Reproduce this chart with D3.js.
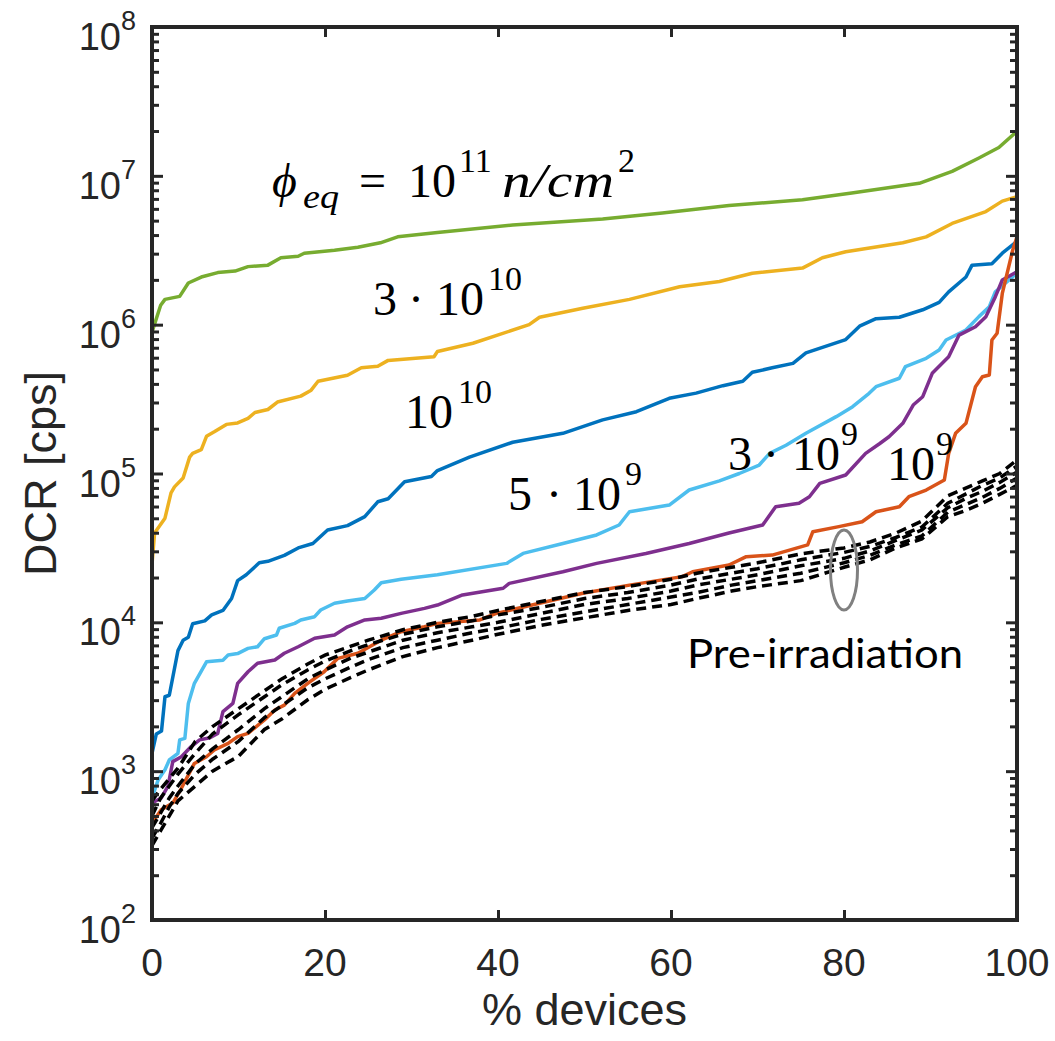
<!DOCTYPE html>
<html>
<head>
<meta charset="utf-8">
<script src="https://cdn.jsdelivr.net/npm/d3@7"></script>
<style>
  html, body { margin: 0; padding: 0; background: #fff; }
  svg { display: block; }
</style>
</head>
<body>
<div id="chart"></div>
<script>
// Values: [% devices, log10(DCR in cps)]
const phi1e11 = [[0,5.95],[1,6.13],[1.5,6.17],[3.2,6.19],[4.2,6.28],[5.7,6.32],[7.6,6.35],[9.6,6.36],[11.1,6.39],[13.4,6.40],[14.9,6.45],[16.9,6.46],[17.6,6.48],[21.1,6.50],[23.8,6.52],[26.4,6.55],[28.4,6.59],[33,6.62],[41.7,6.67],[52.1,6.71],[59,6.75],[66.7,6.80],[75.2,6.84],[80.9,6.885],[88.7,6.95],[92.5,7.03],[95.6,7.12],[97.9,7.19],[100,7.30]];
const phi3e10 = [[0,4.39],[0.3,4.6],[1.5,4.7],[2.2,4.87],[2.6,4.91],[3.6,4.97],[4.35,5.11],[4.7,5.135],[5.7,5.16],[6.3,5.25],[7.2,5.28],[8.6,5.33],[9.9,5.34],[11.1,5.37],[11.9,5.41],[13.4,5.43],[14.5,5.48],[17.2,5.52],[18.4,5.56],[19.2,5.62],[22.6,5.66],[24.2,5.71],[26.1,5.72],[27.3,5.76],[32.6,5.785],[33,5.82],[37.1,5.875],[43.6,6.0],[44.8,6.05],[49.8,6.11],[55.2,6.17],[61,6.255],[65.6,6.29],[69.4,6.345],[75.2,6.38],[77.5,6.45],[80.2,6.49],[86.8,6.55],[89.5,6.59],[92.5,6.68],[96.4,6.76],[98.3,6.83],[100,6.86]];
const phi1e10 = [[0,3.12],[0.5,3.25],[1.1,3.27],[1.5,3.5],[2,3.51],[3,3.81],[3.6,3.88],[4.2,3.9],[4.7,3.99],[6.1,4.01],[6.9,4.05],[8.2,4.08],[9.2,4.16],[9.9,4.28],[10.9,4.32],[12.4,4.40],[13.4,4.41],[15.3,4.45],[16.9,4.50],[18.6,4.53],[20.3,4.62],[22.6,4.65],[24.6,4.71],[26.1,4.81],[27.3,4.83],[29.2,4.945],[32.3,4.98],[33,5.02],[36.7,5.11],[41.7,5.21],[47.5,5.27],[52.1,5.36],[56,5.415],[59.8,5.505],[62.9,5.54],[66,5.59],[68.3,5.62],[69.4,5.68],[71.7,5.71],[74.1,5.74],[75.6,5.81],[80.2,5.90],[81.8,5.99],[83.7,6.04],[86.4,6.05],[89.1,6.10],[91,6.15],[92.1,6.22],[94.1,6.32],[94.8,6.40],[97.1,6.41],[98.3,6.48],[100,6.56]];
const phi5e9 = [[0,2.82],[0.7,2.94],[1.5,3.01],[2,3.075],[3,3.12],[3.2,3.21],[3.8,3.22],[4.2,3.455],[4.9,3.59],[6.3,3.735],[8.2,3.746],[8.8,3.78],[9.9,3.79],[11.1,3.825],[12.2,3.836],[13,3.89],[14.4,3.915],[14.7,3.96],[16.5,3.993],[17.2,4.016],[18.8,4.038],[19.5,4.083],[21.1,4.128],[22.6,4.143],[24.6,4.16],[25.7,4.217],[26.5,4.266],[28.8,4.289],[33,4.32],[41,4.396],[42.9,4.463],[47.5,4.53],[51.4,4.587],[54,4.654],[55.2,4.743],[59.8,4.788],[62.1,4.889],[65.6,4.95],[67.9,5.0],[70.2,5.057],[71.4,5.135],[73.3,5.19],[75.6,5.27],[79.1,5.382],[81,5.449],[82.9,5.539],[83.7,5.583],[86.4,5.64],[87.1,5.718],[89.5,5.774],[91,5.83],[91.8,5.897],[94.1,5.964],[95.6,6.054],[96.8,6.121],[97.5,6.221],[99.5,6.32],[100,6.36]];
const phi3e9 = [[0,2.786],[1.07,2.82],[1.85,2.9],[2.4,3.064],[3.4,3.097],[4.5,3.164],[5.5,3.21],[6.7,3.225],[7.6,3.254],[8.2,3.4],[9.35,3.455],[9.9,3.59],[11.1,3.668],[12.2,3.725],[14.2,3.747],[15.3,3.792],[16.9,3.836],[18.8,3.893],[21.1,3.915],[22.6,3.97],[24.6,4.016],[26.5,4.027],[28.8,4.06],[31.5,4.094],[33,4.116],[35.9,4.184],[40.6,4.229],[41.3,4.262],[47.5,4.34],[51.4,4.396],[57.1,4.463],[62.1,4.53],[66.7,4.6],[70.6,4.654],[72.1,4.777],[74.8,4.8],[76,4.844],[77.2,4.934],[80.2,4.99],[82.5,5.135],[84.1,5.2],[85.2,5.247],[86.8,5.337],[88,5.46],[89.1,5.516],[90.2,5.673],[92.1,5.785],[93.3,5.93],[95.2,5.986],[96.4,6.054],[97.5,6.188],[98.3,6.3],[100,6.356]];
const phi1e9 = [[0,2.65],[1.07,2.74],[2.4,2.786],[3.4,2.885],[4.9,3.052],[6.3,3.097],[7.2,3.142],[8.8,3.187],[9.9,3.232],[11.1,3.254],[13,3.344],[14.2,3.411],[15.3,3.444],[16.5,3.523],[18,3.59],[19.9,3.668],[21.5,3.758],[23.8,3.792],[26.5,3.88],[28.8,3.937],[31.5,3.97],[33,3.993],[37.9,4.016],[39.8,4.06],[44.8,4.128],[49.8,4.195],[55.2,4.25],[61.3,4.307],[62.5,4.34],[66.7,4.385],[68.7,4.441],[71.7,4.452],[75.8,4.52],[76.4,4.609],[79.4,4.643],[82.1,4.676],[83.7,4.743],[86.4,4.777],[87.5,4.844],[89.5,4.889],[91.6,4.956],[92.1,5.135],[92.9,5.27],[94.1,5.337],[95.2,5.583],[96,5.65],[96.8,5.662],[97.1,5.897],[97.7,5.942],[98.3,6.21],[99.5,6.5],[100,6.59]];

// Pre-irradiation measurements (dashed), same % grid for each run
const preGrid = [0,1,2,3,5,7,10,13,15,18,20,23,25,29,33,37,40,45,50,55,60,63,67,70,75,80,83,86,89,92,94,96,98,100];
const preRunA = [2.8,2.88,2.95,3.02,3.2,3.3,3.42,3.54,3.62,3.72,3.78,3.84,3.88,3.95,4.0,4.04,4.08,4.14,4.2,4.24,4.29,4.33,4.37,4.4,4.46,4.5,4.54,4.6,4.68,4.85,4.9,4.95,5.0,5.09];
const preRunB = [2.7,2.82,2.9,2.98,3.12,3.25,3.38,3.5,3.58,3.68,3.74,3.81,3.85,3.92,3.97,4.01,4.05,4.1,4.16,4.2,4.25,4.29,4.33,4.36,4.42,4.47,4.51,4.57,4.64,4.8,4.86,4.92,4.97,5.05];
const preRunC = [2.62,2.72,2.82,2.9,3.05,3.15,3.28,3.42,3.5,3.62,3.68,3.76,3.8,3.88,3.93,3.97,4.0,4.06,4.12,4.16,4.21,4.25,4.29,4.32,4.38,4.43,4.48,4.55,4.62,4.77,4.83,4.88,4.94,5.01];
const preRunD = [2.55,2.65,2.76,2.85,2.98,3.08,3.2,3.36,3.44,3.56,3.62,3.7,3.75,3.83,3.88,3.93,3.96,4.02,4.07,4.12,4.17,4.2,4.25,4.28,4.33,4.4,4.45,4.52,4.58,4.74,4.79,4.84,4.9,4.97];
const preRunE = [2.5,2.6,2.7,2.8,2.9,3.0,3.1,3.28,3.35,3.48,3.55,3.63,3.68,3.77,3.83,3.88,3.92,3.98,4.03,4.08,4.12,4.16,4.21,4.24,4.28,4.37,4.42,4.5,4.56,4.71,4.75,4.8,4.86,4.92];

const xTicks = [0, 20, 40, 60, 80, 100];
const yDecades = [2, 3, 4, 5, 6, 7, 8];

const series = [
    { data: phi1e11, color: '#77AC30' },
    { data: phi3e10, color: '#EDB120' },
    { data: phi1e10, color: '#0072BD' },
    { data: phi5e9, color: '#4DBEEE' },
    { data: phi3e9, color: '#7E2F8E' },
    { data: phi1e9, color: '#D95319' }
];
const preRuns = [preRunA, preRunB, preRunC, preRunD, preRunE];

const W = 1055, H = 1041;
const plot = { left: 152, right: 1017, top: 27, bottom: 920 };
const axisColor = '#262626';
const sansFont = '"Liberation Sans", Arial, Helvetica, sans-serif';
const serifFont = '"Liberation Serif", "Times New Roman", serif';

const svg = d3.select('#chart').append('svg')
    .attr('width', W)
    .attr('height', H);

const x = d3.scaleLinear().domain([0, 100]).range([plot.left, plot.right]);
const y = d3.scaleLog().domain([1e2, 1e8]).range([plot.bottom, plot.top]);

const line = d3.line()
    .x((d) => x(d[0]))
    .y((d) => y(Math.pow(10, d[1])));

const content = svg.append('g').classed('lines', true);

content.selectAll('path.fluence')
    .data(series)
    .enter()
    .append('path')
    .classed('fluence', true)
    .attr('d', (s) => line(s.data))
    .attr('fill', 'none')
    .attr('stroke', (s) => s.color)
    .attr('stroke-width', 3.5)
    .attr('stroke-linejoin', 'round');

content.selectAll('path.pre')
    .data(preRuns)
    .enter()
    .append('path')
    .classed('pre', true)
    .attr('d', (run) => line(run.map((v, i) => [preGrid[i], v])))
    .attr('fill', 'none')
    .attr('stroke', '#000')
    .attr('stroke-width', 3.5)
    .attr('stroke-dasharray', '10,6');

// Axes: ticks inward on all four sides, like a boxed MATLAB axes.
const minorTicks = [];
yDecades.slice(0, -1).forEach((e) => {
    for (let m = 2; m <= 9; m++) minorTicks.push(m * Math.pow(10, e));
});
const majorTicks = yDecades.map((e) => Math.pow(10, e));

const axes = svg.append('g').classed('axes', true);

function drawAxis(axisFn, tickValues, size, transform) {
    const g = axes.append('g')
        .attr('transform', transform)
        .call(axisFn.tickValues(tickValues).tickSize(size).tickFormat(''));
    g.select('.domain').remove();
    g.selectAll('line').attr('stroke', axisColor).attr('stroke-width', 3);
    return g;
}

drawAxis(d3.axisTop(x), xTicks, 10, `translate(0,${plot.bottom})`);
drawAxis(d3.axisBottom(x), xTicks, 10, `translate(0,${plot.top})`);
drawAxis(d3.axisRight(y), majorTicks, 11, `translate(${plot.left},0)`);
drawAxis(d3.axisRight(y), minorTicks, 7, `translate(${plot.left},0)`);
drawAxis(d3.axisLeft(y), majorTicks, 11, `translate(${plot.right},0)`);
drawAxis(d3.axisLeft(y), minorTicks, 7, `translate(${plot.right},0)`);

axes.append('rect')
    .attr('x', plot.left)
    .attr('y', plot.top)
    .attr('width', plot.right - plot.left)
    .attr('height', plot.bottom - plot.top)
    .attr('fill', 'none')
    .attr('stroke', axisColor)
    .attr('stroke-width', 4);

// Tick labels
axes.selectAll('text.xlabel')
    .data(xTicks)
    .enter()
    .append('text')
    .attr('x', (d) => x(d))
    .attr('y', 976)
    .attr('text-anchor', 'middle')
    .attr('font-family', sansFont)
    .attr('font-size', 39)
    .attr('fill', axisColor)
    .text((d) => d);

const yLabels = axes.selectAll('text.ylabel')
    .data(yDecades)
    .enter()
    .append('text')
    .attr('x', 136)
    .attr('y', (e) => y(Math.pow(10, e)) + 23)
    .attr('text-anchor', 'end')
    .attr('font-family', sansFont)
    .attr('fill', axisColor);
yLabels.append('tspan').attr('font-size', 38).text('10');
yLabels.append('tspan').attr('font-size', 27).attr('dy', -20).text((e) => e);

// Axis titles
svg.append('text')
    .attr('x', (plot.left + plot.right) / 2)
    .attr('y', 1025)
    .attr('text-anchor', 'middle')
    .attr('font-family', sansFont)
    .attr('font-size', 45)
    .attr('fill', axisColor)
    .text('% devices');

svg.append('text')
    .attr('transform', `translate(56,${(plot.top + plot.bottom) / 2}) rotate(-90)`)
    .attr('text-anchor', 'middle')
    .attr('font-family', sansFont)
    .attr('font-size', 45)
    .attr('fill', axisColor)
    .text('DCR [cps]');

// Fluence annotations, each piece placed at its own x
const notes = svg.append('g').classed('notes', true)
    .attr('font-family', serifFont)
    .attr('fill', '#000');

function mathLabel(py, parts) {
    const t = notes.append('text').attr('y', py).attr('font-size', 48);
    let shift = 0;
    parts.forEach((p) => {
        const s = t.append('tspan').attr('x', p.x).text(p.text);
        const target = p.sup ? -25 : p.sub ? 11 : 0;
        if (target !== shift) { s.attr('dy', target - shift); shift = target; }
        if (p.sup || p.sub) s.attr('font-size', 34);
        if (p.italic) s.attr('font-style', 'italic');
        if (p.len) s.attr('textLength', p.len).attr('lengthAdjust', 'spacingAndGlyphs');
    });
    return t;
}

mathLabel(197, [
    { text: 'ϕ', x: 272, italic: true },
    { text: 'eq', x: 303, italic: true, sub: true, len: 36 },
    { text: '=', x: 359 },
    { text: '10', x: 408 },
    { text: '11', x: 459, sup: true },
    { text: 'n/cm', x: 502, italic: true, len: 112 },
    { text: '2', x: 618, sup: true }
]);
mathLabel(315, [
    { text: '3', x: 373 }, { text: '·', x: 408 }, { text: '10', x: 436 },
    { text: '10', x: 488, sup: true }
]);
mathLabel(428, [{ text: '10', x: 405 }, { text: '10', x: 458, sup: true }]);
mathLabel(510, [
    { text: '5', x: 508 }, { text: '·', x: 546 }, { text: '10', x: 573 },
    { text: '9', x: 625, sup: true }
]);
mathLabel(470, [
    { text: '3', x: 728 }, { text: '·', x: 763 }, { text: '10', x: 792 },
    { text: '9', x: 841, sup: true }
]);
mathLabel(480, [{ text: '10', x: 887 }, { text: '9', x: 936, sup: true }]);

// Pre-irradiation marker
svg.append('ellipse')
    .attr('cx', x(80))
    .attr('cy', 570)
    .attr('rx', 13.5)
    .attr('ry', 40)
    .attr('fill', 'none')
    .attr('stroke', '#808080')
    .attr('stroke-width', 3);

svg.append('text')
    .attr('x', 687)
    .attr('y', 668)
    .attr('font-family', 'Lato, "Open Sans", sans-serif')
    .attr('font-size', 41)
    .attr('textLength', 276)
    .attr('lengthAdjust', 'spacingAndGlyphs')
    .attr('fill', '#000')
    .text('Pre-irradiation');
</script>
</body>
</html>
